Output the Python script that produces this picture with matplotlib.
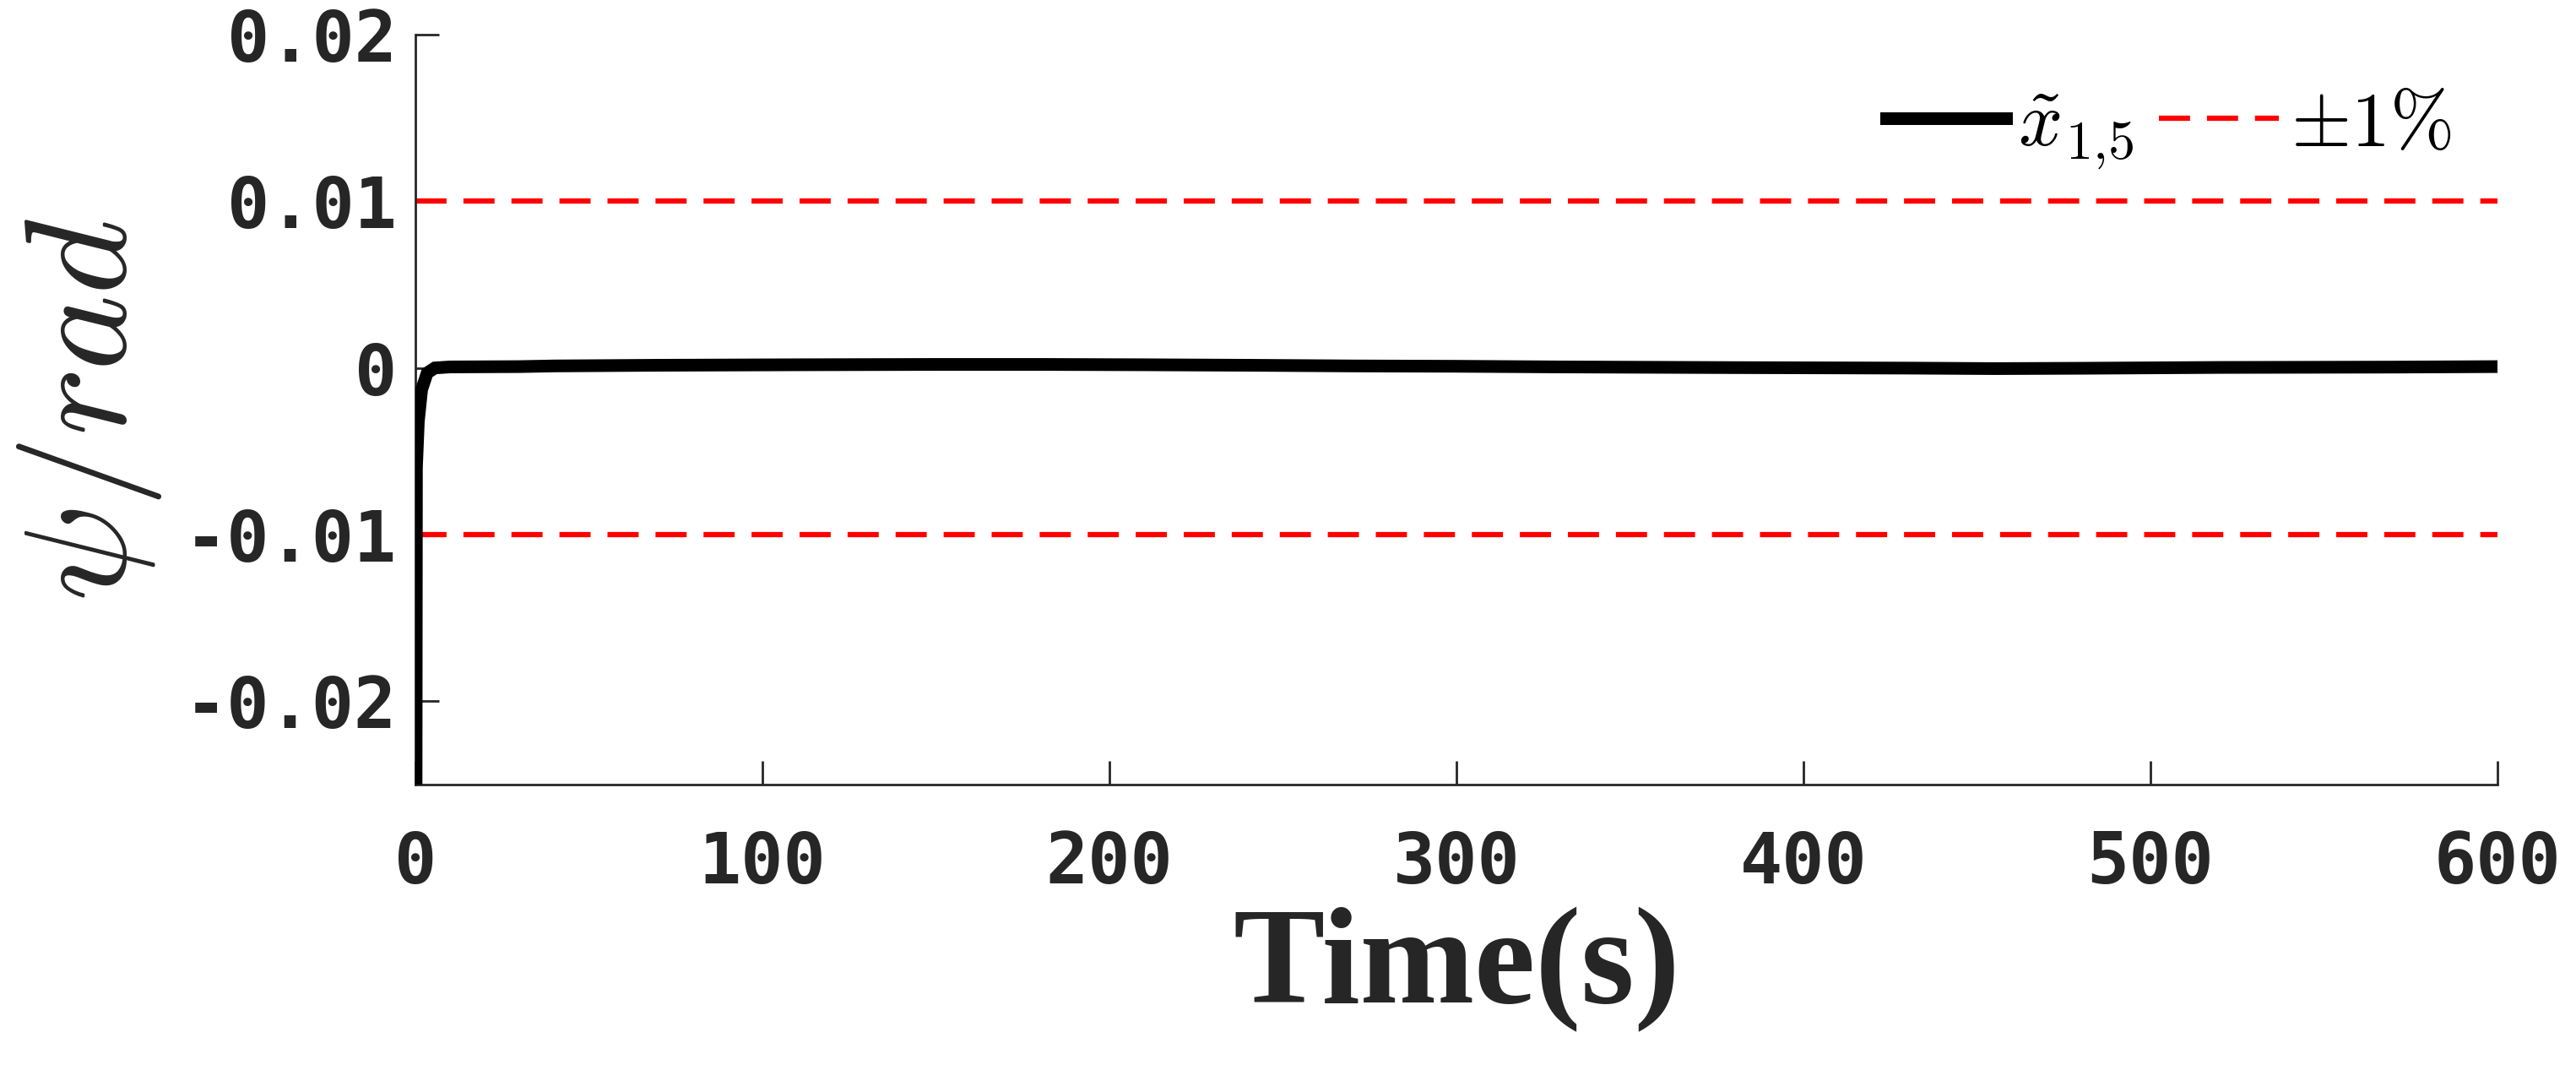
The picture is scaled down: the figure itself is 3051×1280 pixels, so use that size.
import matplotlib
matplotlib.use("Agg")
import matplotlib.pyplot as plt

# ---- data ----
t = [0, 0.3, 0.85, 1.8, 2.6, 3.4, 5.6, 10, 30, 40, 70, 110, 150, 180, 210, 240,
     270, 300, 330, 380, 430, 455, 480, 520, 570, 600]
x15 = [-0.06, -0.006, -0.0032, -0.0013, -0.0008, -0.0003, 0.0, 0.00006, 0.00008,
       0.00012, 0.00016, 0.00019, 0.00021, 0.00021, 0.00019, 0.00016, 0.00012,
       0.00010, 0.00006, 0.00002, -0.00001, -0.00004, -0.00002, 0.00003, 0.00005,
       0.00008]
bound_t = [0, 600]
bound = 0.01

xticks = [0, 100, 200, 300, 400, 500, 600]
xticklabels = ['0', '100', '200', '300', '400', '500', '600']
yticks = [-0.02, -0.01, 0, 0.01, 0.02]
yticklabels = ['-0.02', '-0.01', '0', '0.01', '0.02']

plt.rcParams['mathtext.fontset'] = 'cm'

W, H = 3051, 1280
fig = plt.figure(figsize=(W / 100, H / 100), dpi=100)
L, R, T, B = 492, 2958, 41, 929
ax = fig.add_axes([L / W, 1 - B / H, (R - L) / W, (B - T) / H])

ax.plot(t, x15, color='black', lw=10.8, solid_joinstyle='miter',
        label=r'$\tilde{x}_{1{,}5}$', zorder=3)
ax.plot(bound_t, [bound, bound], color='#ff0000', lw=4.5,
        linestyle=(0, (5.9, 3.2)), label=r'$\pm1\%$', zorder=2)
ax.plot(bound_t, [-bound, -bound], color='#ff0000', lw=4.5,
        linestyle=(0, (5.9, 3.2)), zorder=2)

ax.set_xlim(0, 600)
ax.set_ylim(-0.025, 0.02)
ax.set_xticks(xticks)
ax.set_xticklabels(xticklabels)
ax.set_yticks(yticks)
ax.set_yticklabels(yticklabels)

for s in ['top', 'right']:
    ax.spines[s].set_visible(False)
for s in ['left', 'bottom']:
    ax.spines[s].set_linewidth(2)
    ax.spines[s].set_color('#262626')

ax.tick_params(direction='in', length=20, width=2, color='#262626',
               labelcolor='#262626')
ax.tick_params(axis='x', pad=38)
ax.tick_params(axis='y', pad=16)
for lab in ax.get_xticklabels() + ax.get_yticklabels():
    lab.set_family('DejaVu Sans Mono')
    lab.set_fontweight('bold')
    lab.set_fontsize(60)

ax.set_xlabel('Time(s)', family='Liberation Serif', fontweight='bold',
              fontsize=117, color='#262626', labelpad=8)
ax.set_ylabel(r'$\psi/rad$', fontsize=123, color='#262626', labelpad=18)

leg = ax.legend(loc='center right', bbox_to_anchor=(2903 / W, 1 - 152 / H),
                bbox_transform=fig.transFigure, ncol=2, frameon=False,
                fontsize=66, handlelength=1.55, handletextpad=0.15,
                columnspacing=0.33, borderpad=0, borderaxespad=0)

fig.savefig('out.png', dpi=100, facecolor='white')
